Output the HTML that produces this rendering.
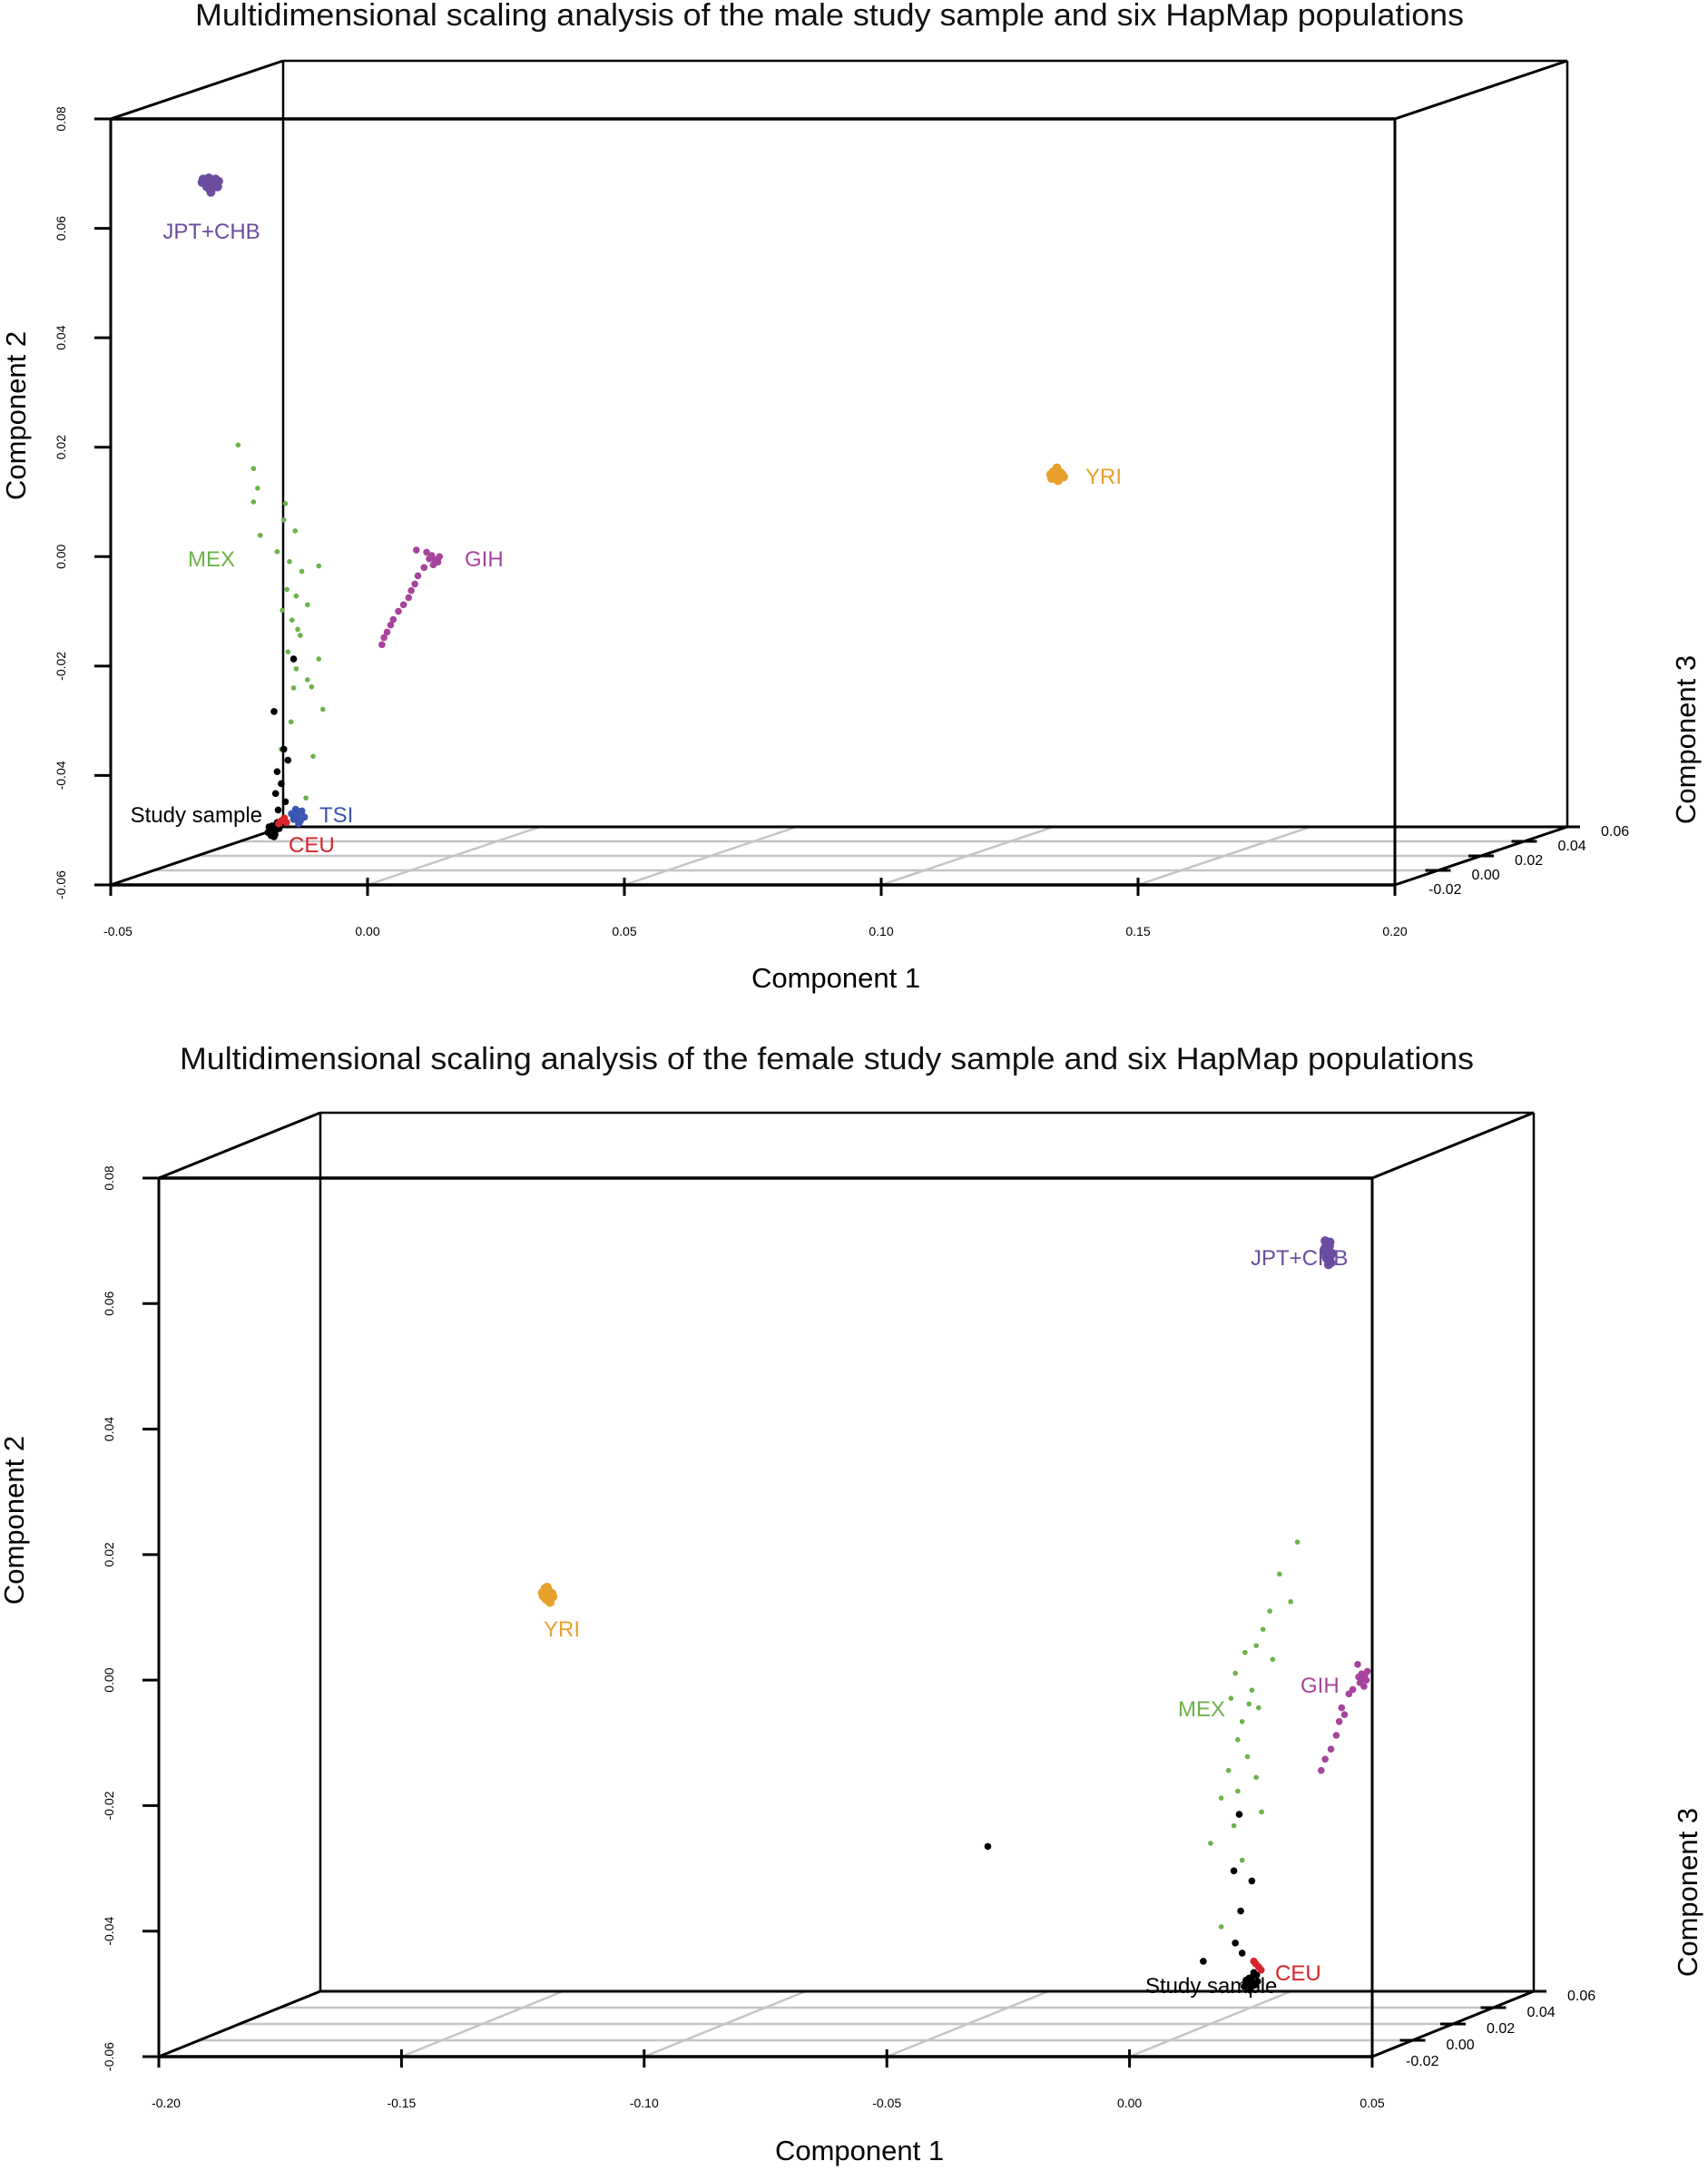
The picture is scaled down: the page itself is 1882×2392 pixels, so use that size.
<!DOCTYPE html>
<html><head><meta charset="utf-8">
<style>
html,body{margin:0;padding:0;background:#fff;}
svg{display:block;font-family:"Liberation Sans",sans-serif;}
</style></head>
<body>
<svg id="chart" width="1882" height="2392" viewBox="0 0 1882 2392" xmlns="http://www.w3.org/2000/svg">
<g id="p1"></g>
<g id="p2"></g>
</svg>
<script>
// ---------- Panel 1 (male) data ----------
const m_xTicks = [-0.05, 0.00, 0.05, 0.10, 0.15, 0.20];
const m_xTickLabels = ["-0.05","0.00","0.05","0.10","0.15","0.20"];
const m_yTicks = [0.08,0.06,0.04,0.02,0.00,-0.02,-0.04,-0.06];
const m_yTickLabels = ["0.08","0.06","0.04","0.02","0.00","-0.02","-0.04","-0.06"];
const m_jptX = [-0.0306,-0.0300,-0.0312,-0.0295,-0.0318,-0.0303,-0.0309,-0.0298,-0.0315,-0.0290,-0.0322,-0.0306,-0.0301,-0.0311,-0.0296,-0.0308,-0.0302,-0.0313,-0.0299,-0.0305,-0.0292,-0.0320];
const m_jptY = [0.0683,0.0688,0.0679,0.0684,0.0687,0.0674,0.0692,0.0678,0.0682,0.0686,0.0684,0.0670,0.0681,0.0689,0.0690,0.0677,0.0685,0.0676,0.0680,0.0666,0.0676,0.0690];
const m_yriX = [0.1342,0.1336,0.1348,0.1332,0.1352,0.1340,0.1345,0.1330,0.1355,0.1338,0.1344,0.1349,0.1335,0.1342];
const m_yriY = [0.0148,0.0152,0.0145,0.0143,0.0150,0.0158,0.0140,0.0150,0.0146,0.0147,0.0139,0.0153,0.0155,0.0162];
const m_gihX = [0.0131,0.0125,0.0137,0.0120,0.0128,0.0140,0.0115,0.0110,0.0098,0.0092,0.0085,0.0080,0.0070,0.0060,0.0050,0.0045,0.0038,0.0032,0.0028,0.0095];
const m_gihY = [-0.0006,0.0002,-0.0010,-0.0004,-0.0015,0.0000,0.0008,-0.0020,-0.0035,-0.0050,-0.0062,-0.0075,-0.0088,-0.0100,-0.0115,-0.0125,-0.0138,-0.0148,-0.0161,0.0012];
const m_mexX = [-0.0252,-0.0222,-0.0214,-0.0222,-0.0160,-0.0209,-0.0163,-0.0141,-0.0176,-0.0152,-0.0128,-0.0095,-0.0157,-0.0139,-0.0117,-0.0166,-0.0147,-0.0131,-0.0155,-0.0095,-0.0139,-0.0117,-0.0144,-0.0109,-0.0087,-0.0149,-0.0106,-0.0120,-0.0168,-0.0136];
const m_mexY = [0.0204,0.0161,0.0125,0.0100,0.0097,0.0039,0.0067,0.0047,0.0009,-0.0009,-0.0027,-0.0017,-0.0060,-0.0072,-0.0088,-0.0098,-0.0116,-0.0144,-0.0174,-0.0187,-0.0205,-0.0225,-0.0240,-0.0238,-0.0279,-0.0302,-0.0365,-0.0441,-0.0352,-0.0133];
const m_studyX = [-0.0144,-0.0182,-0.0163,-0.0155,-0.0176,-0.0168,-0.0179,-0.0160,-0.0174,-0.0184,-0.0178,-0.0190,-0.0186,-0.0180,-0.0192,-0.0176,-0.0188,-0.0182,-0.0194,-0.0172,-0.0186,-0.0180];
const m_studyY = [-0.0187,-0.0283,-0.0352,-0.0372,-0.0393,-0.0415,-0.0433,-0.0448,-0.0463,-0.0496,-0.0490,-0.0500,-0.0505,-0.0502,-0.0494,-0.0486,-0.0510,-0.0512,-0.0504,-0.0497,-0.0492,-0.0508];
const m_tsiX = [-0.0136,-0.0128,-0.0144,-0.0131,-0.0140,-0.0123,-0.0148,-0.0134];
const m_tsiY = [-0.0473,-0.0465,-0.0480,-0.0483,-0.0462,-0.0476,-0.0470,-0.0488];
const m_ceuX = [-0.0168,-0.0162,-0.0173,-0.0158];
const m_ceuY = [-0.0483,-0.0478,-0.0488,-0.0486];

// ---------- Panel 2 (female) data ----------
const f_xTicks = [-0.20,-0.15,-0.10,-0.05,0.00,0.05];
const f_xTickLabels = ["-0.20","-0.15","-0.10","-0.05","0.00","0.05"];
const f_yTicks = [0.08,0.06,0.04,0.02,0.00,-0.02,-0.04,-0.06];
const f_yTickLabels = ["0.08","0.06","0.04","0.02","0.00","-0.02","-0.04","-0.06"];
const f_jptX = [0.0409,0.0404,0.0414,0.0401,0.0417,0.0407,0.0411,0.0403,0.0415,0.0409,0.0405,0.0412,0.0406,0.0410,0.0402,0.0413,0.0408,0.0404];
const f_jptY = [0.0683,0.0690,0.0676,0.0686,0.0680,0.0695,0.0670,0.0700,0.0665,0.0688,0.0678,0.0692,0.0672,0.0662,0.0684,0.0698,0.0674,0.0681];
const f_yriX = [-0.1199,-0.1205,-0.1193,-0.1208,-0.1190,-0.1200,-0.1196,-0.1210,-0.1188,-0.1202,-0.1198,-0.1194,-0.1204];
const f_yriY = [0.0136,0.0141,0.0131,0.0134,0.0138,0.0148,0.0126,0.0139,0.0133,0.0129,0.0144,0.0124,0.0146];
const f_gihX = [0.0480,0.0485,0.0475,0.0488,0.0478,0.0483,0.0472,0.0490,0.0452,0.0437,0.0432,0.0426,0.0415,0.0403,0.0395,0.0443,0.0470,0.0460];
const f_gihY = [0.0002,0.0008,-0.0004,0.0000,0.0010,-0.0010,0.0005,0.0014,-0.0022,-0.0044,-0.0066,-0.0088,-0.0110,-0.0126,-0.0144,-0.0055,0.0025,-0.0015];
const f_mexX = [0.0346,0.0309,0.0332,0.0289,0.0275,0.0261,0.0238,0.0295,0.0218,0.0252,0.0266,0.0232,0.0223,0.0243,0.0204,0.0261,0.0223,0.0189,0.0272,0.0215,0.0167,0.0232,0.0189,0.0246,0.0209];
const f_mexY = [0.0220,0.0169,0.0125,0.0110,0.0081,0.0055,0.0044,0.0033,0.0011,-0.0016,-0.0044,-0.0066,-0.0095,-0.0122,-0.0144,-0.0155,-0.0177,-0.0188,-0.0210,-0.0232,-0.0260,-0.0287,-0.0393,-0.0038,-0.0029];
const f_studyX = [0.0226,0.0215,0.0252,0.0229,0.0152,0.0218,0.0232,-0.0292,0.0252,0.0246,0.0258,0.0240,0.0262,0.0250,0.0244,0.0256,0.0236,0.0248,0.0264,0.0254];
const f_studyY = [-0.0214,-0.0304,-0.0320,-0.0368,-0.0448,-0.0419,-0.0435,-0.0265,-0.0481,-0.0475,-0.0486,-0.0478,-0.0470,-0.0490,-0.0484,-0.0466,-0.0488,-0.0494,-0.0480,-0.0472];
const f_ceuX = [0.0266,0.0260,0.0271,0.0256];
const f_ceuY = [-0.0457,-0.0452,-0.0462,-0.0448];

const NS = "http://www.w3.org/2000/svg";
function el(parent, tag, attrs, text){
  const e = document.createElementNS(NS, tag);
  for (const k in attrs) e.setAttribute(k, attrs[k]);
  if (text !== undefined) e.textContent = text;
  parent.appendChild(e);
  return e;
}
function line(g,x1,y1,x2,y2,stroke,w,name){
  const l = el(g,"line",{x1:x1,y1:y1,x2:x2,y2:y2,stroke:stroke,"stroke-width":w});
  
  
  return l;
}
function txt(g,x,y,s,size,fill,anchor,name,rot){
  const t = el(g,"text",{x:x,y:y,"font-size":size,fill:fill,"text-anchor":anchor||"start"},s);
  if (rot) t.setAttribute("transform","rotate("+rot+" "+x+" "+y+")");
  
  
  return t;
}

function drawPanel(g, cfg){
  const {L,T,R,B,dx,dy,xmin,xmax,ymin,ymax} = cfg;
  const sx = v => L + (v - xmin)/(xmax - xmin)*(R - L);
  const sy = v => B - (v - ymin)/(ymax - ymin)*(B - T);
  const tt = txt(g, cfg.titleX, cfg.titleY, cfg.title, 34, "#111", "middle", "chart-title");
  tt.setAttribute("textLength", cfg.titleW);
  tt.setAttribute("lengthAdjust", "spacingAndGlyphs");
  for (let i=1;i<cfg.xTicks.length-1;i++){
    const x = sx(cfg.xTicks[i]);
    line(g,x,B,x+dx,B+dy,"#c4c4c4",2.5,"floor-grid-line");
  }
  for (let k=1;k<=3;k++){
    const f = k/4;
    line(g,L+dx*f,B+dy*f,R+dx*f,B+dy*f,"#c4c4c4",2.5,"floor-grid-line");
  }
  line(g,L+dx,T+dy,R+dx,T+dy,"#000",2.5,"box-edge");
  line(g,L+dx,T+dy,L+dx,B+dy,"#000",2.5,"box-edge");
  line(g,R+dx,T+dy,R+dx,B+dy,"#000",2.5,"box-edge");
  line(g,L+dx,B+dy,R+dx+14,B+dy,"#000",3,"box-edge");
  line(g,L,T,L+dx,T+dy,"#000",3,"box-edge");
  line(g,R,T,R+dx,T+dy,"#000",3,"box-edge");
  line(g,L,B,L+dx,B+dy,"#000",3,"box-edge");
  line(g,R,B,R+dx,B+dy,"#000",3,"depth-axis");
  line(g,L,T,R,T,"#000",3.5,"box-edge");
  line(g,L,T,L,B,"#000",3,"y-axis");
  line(g,R,T,R,B,"#000",3,"box-edge");
  line(g,L,B,R,B,"#000",3.5,"x-axis");
  cfg.yTicks.forEach((v,i)=>{
    const y = sy(v);
    line(g,L-18,y,L,y,"#000",3,"y-tick");
    txt(g,L-50,y,cfg.yTickLabels[i],14,"#000","middle","y-tick-label",-90);
  });
  cfg.xTicks.forEach((v,i)=>{
    const x = sx(v);
    line(g,x,B-8,x,B+12,"#000",3,"x-tick");
    txt(g,x+ (i===0?8:0),B+56,cfg.xTickLabels[i],14,"#000","middle","x-tick-label");
  });
  const dLabels = ["-0.02","0.00","0.02","0.04","0.06"];
  dLabels.forEach((s,i)=>{
    const f = i/4;
    const x = R + dx*f, y = B + dy*f;
    if (i>=1 && i<=3) line(g,x-14,y,x+14,y,"#000",3,"z-tick");
    txt(g,x+37,y+10,s,16,"#000","start","z-tick-label");
  });
  txt(g,cfg.c1x,cfg.c1y,"Component 1",31,"#000","middle","x-axis-title");
  txt(g,cfg.c2x,cfg.c2y,"Component 2",31,"#000","middle","y-axis-title",-90);
  txt(g,cfg.c3x,cfg.c3y,"Component 3",31,"#000","middle","z-axis-title",-90);
  cfg.series.forEach(s=>{
    const sg = el(g,"g",{});
    
    
    for (let i=0;i<s.x.length;i++){
      const c = el(sg,"circle",{cx:sx(s.x[i]),cy:sy(s.y[i]),r:s.r||3.2,fill:s.color});
      
      
    }
  });
  cfg.labels.forEach(l=>{
    txt(g,l.x,l.y,l.t,24,l.c,l.a,l.n);
  });
}

const C = {jpt:"#6b4c9e",yri:"#e8a02c",gih:"#a6449b",mex:"#6cb24a",tsi:"#3b56b0",ceu:"#d9232a",st:"#000"};

drawPanel(document.getElementById("p1"),{
  L:122,T:131,R:1537,B:975,dx:190,dy:-64,xmin:-0.05,xmax:0.20,ymin:-0.06,ymax:0.08,
  title:"Multidimensional scaling analysis of the male study sample and six HapMap populations",
  titleX:914,titleY:28,titleW:1398,
  xTicks:m_xTicks,xTickLabels:m_xTickLabels,yTicks:m_yTicks,yTickLabels:m_yTickLabels,
  c1x:921,c1y:1088,c2x:28,c2y:458,c3x:1868,c3y:815,
  series:[
    {name:"mex",x:m_mexX,y:m_mexY,color:C.mex,r:2.8},
    {name:"jpt-chb",x:m_jptX,y:m_jptY,color:C.jpt,r:5},
    {name:"yri",x:m_yriX,y:m_yriY,color:C.yri,r:5},
    {name:"gih",x:m_gihX,y:m_gihY,color:C.gih,r:3.8},
    {name:"tsi",x:m_tsiX,y:m_tsiY,color:C.tsi,r:4},
    {name:"study-sample",x:m_studyX,y:m_studyY,color:C.st,r:3.8},
    {name:"ceu",x:m_ceuX,y:m_ceuY,color:C.ceu,r:4}
  ],
  labels:[
    {x:233,y:263,t:"JPT+CHB",c:C.jpt,a:"middle",n:"jpt-chb-label"},
    {x:233,y:624,t:"MEX",c:C.mex,a:"middle",n:"mex-label"},
    {x:512,y:624,t:"GIH",c:C.gih,a:"start",n:"gih-label"},
    {x:1196,y:533,t:"YRI",c:C.yri,a:"start",n:"yri-label"},
    {x:352,y:906,t:"TSI",c:C.tsi,a:"start",n:"tsi-label"},
    {x:318,y:939,t:"CEU",c:C.ceu,a:"start",n:"ceu-label"},
    {x:289,y:906,t:"Study sample",c:"#000",a:"end",n:"study-sample-label"}
  ]
});

drawPanel(document.getElementById("p2"),{
  L:175,T:1298,R:1512,B:2266,dx:178,dy:-72,xmin:-0.20,xmax:0.05,ymin:-0.06,ymax:0.08,
  title:"Multidimensional scaling analysis of the female study sample and six HapMap populations",
  titleX:911,titleY:1178,titleW:1426,
  xTicks:f_xTicks,xTickLabels:f_xTickLabels,yTicks:f_yTicks,yTickLabels:f_yTickLabels,
  c1x:947,c1y:2380,c2x:26,c2y:1675,c3x:1870,c3y:2085,
  series:[
    {name:"mex",x:f_mexX,y:f_mexY,color:C.mex,r:2.8},
    {name:"jpt-chb",x:f_jptX,y:f_jptY,color:C.jpt,r:5},
    {name:"yri",x:f_yriX,y:f_yriY,color:C.yri,r:5},
    {name:"gih",x:f_gihX,y:f_gihY,color:C.gih,r:3.8},
    {name:"study-sample",x:f_studyX,y:f_studyY,color:C.st,r:3.8},
    {name:"ceu",x:f_ceuX,y:f_ceuY,color:C.ceu,r:4}
  ],
  labels:[
    {x:1378,y:1394,t:"JPT+CHB",c:C.jpt,a:"start",n:"jpt-chb-label"},
    {x:619,y:1803,t:"YRI",c:C.yri,a:"middle",n:"yri-label"},
    {x:1433,y:1865,t:"GIH",c:C.gih,a:"start",n:"gih-label"},
    {x:1298,y:1891,t:"MEX",c:C.mex,a:"start",n:"mex-label"},
    {x:1405,y:2182,t:"CEU",c:C.ceu,a:"start",n:"ceu-label"},
    {x:1262,y:2196,t:"Study sample",c:"#000",a:"start",n:"study-sample-label"}
  ]
});
</script>
</body></html>
